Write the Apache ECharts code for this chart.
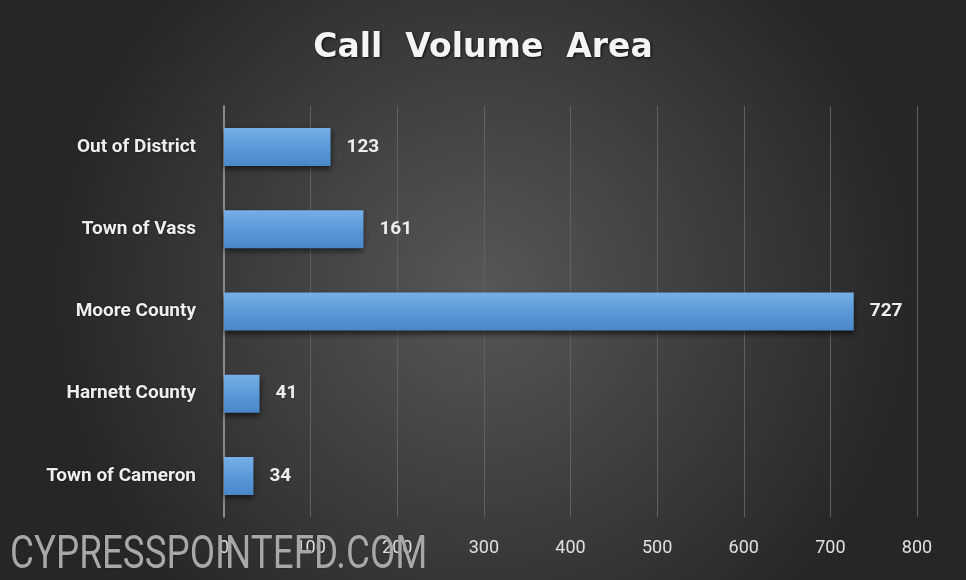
<!DOCTYPE html>
<html><head><meta charset="utf-8">
<script src="https://cdn.jsdelivr.net/npm/echarts@6/dist/echarts.min.js"></script>
<style>html,body{margin:0;padding:0;background:#333}#c{width:966px;height:580px}</style>
</head><body><div id="c"></div>
<script>
const categories = ['Town of Cameron','Harnett County','Moore County','Town of Vass','Out of District'];
const values = [34, 41, 727, 161, 123];
const xTicks = [0,100,200,300,400,500,600,700,800];

const chart = echarts.init(document.getElementById('c'));
chart.setOption({
  backgroundColor: {type:'radial', x:0.5, y:0.5, r:0.75, colorStops:[{offset:0,color:'#575757'},{offset:1,color:'#262626'}]},
  title: {text:'Call  Volume  Area', left:'center', top:27,
    textStyle:{color:'#f4f4f4', fontSize:33, fontWeight:'bold', fontFamily:'DejaVu Sans', textShadowColor:'rgba(0,0,0,0.8)', textShadowBlur:3, textShadowOffsetX:1, textShadowOffsetY:1}},
  grid: {left:224, right:49, top:106, height:411},
  xAxis: {type:'value', min:xTicks[0], max:xTicks[xTicks.length-1], interval:100,
    axisLine:{show:false}, axisTick:{show:false},
    splitLine:{lineStyle:{color:'#606060', width:1}},
    axisLabel:{color:'#e0e0e0', fontSize:18, margin:22, fontFamily:'Roboto'}},
  yAxis: {type:'category', data:categories,
    axisLine:{lineStyle:{color:'#8a8a8a', width:2}}, axisTick:{show:false},
    axisLabel:{color:'#eeeeee', fontSize:19, fontWeight:'bold', margin:28, fontFamily:'Roboto',
      textShadowColor:'rgba(0,0,0,0.6)', textShadowBlur:2}},
  series: [{type:'bar', data:values, barWidth:38,
    itemStyle:{color:{type:'linear',x:0,y:0,x2:0,y2:1,colorStops:[{offset:0,color:'#77aee6'},{offset:0.5,color:'#5a9ad9'},{offset:1,color:'#4a87c9'}]},
      shadowColor:'rgba(0,0,0,0.6)', shadowBlur:6, shadowOffsetY:3},
    label:{show:true, position:'right', distance:16, color:'#eeeeee', fontSize:19, fontWeight:'bold', fontFamily:'Roboto'}}],
  graphic: [{type:'text', x:10, y:533, scaleX:0.8, z:100, style:{text:'CYPRESSPOINTEFD.COM', fill:'#a8a8a8', font:'46px Roboto', stroke:'rgba(0,0,0,0.3)', lineWidth:1}}]
});
</script></body></html>
